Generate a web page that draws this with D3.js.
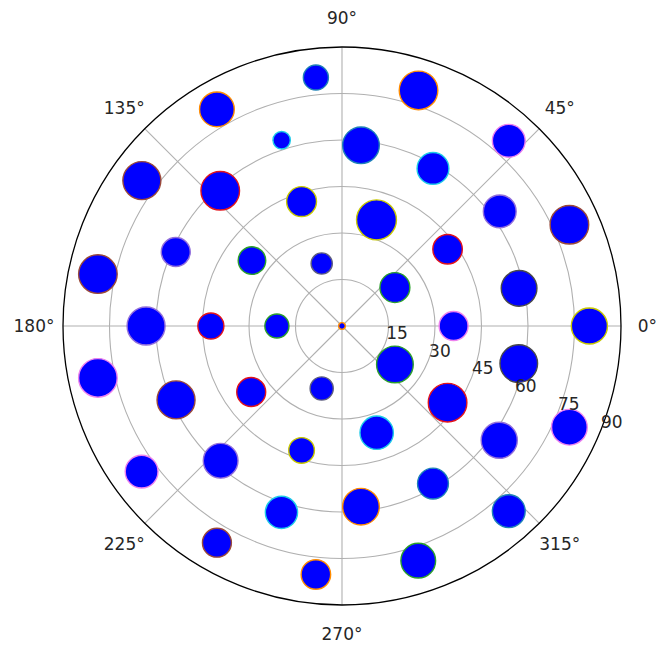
<!DOCTYPE html>
<html>
<head>
<meta charset="utf-8">
<script src="https://cdn.jsdelivr.net/npm/d3@7"></script>
<style>
  body { margin: 0; background: #fff; }
  text { font-family: "DejaVu Sans", sans-serif; fill: #262626; }
</style>
</head>
<body>
<div id="chart"></div>
<script>
// data: angle (deg), radius (axis units), marker area, edge group
var thetaDeg = [0,
  36, 108, 180, 252, 324,
  0, 72, 144, 216, 288,
  36, 108, 180, 252, 324,
  12, 60, 84, 132, 156, 204, 228, 276, 300, 348,
  36, 108, 180, 252, 324,
  0, 24, 48, 72, 96, 120, 144, 168, 192, 216, 240, 264, 288, 312, 336];

var rValue = [0,
  21.1, 21.2, 21.0, 21.2, 21.1,
  36.0, 36.0, 35.9, 36.2, 36.2,
  42.1, 42.2, 42.3, 42.2, 42.1,
  58.4, 58.7, 58.6, 58.7, 58.7, 58.6, 58.5, 58.6, 58.7, 58.3,
  62.9, 63.0, 63.2, 63.2, 62.7,
  79.8, 80.3, 80.4, 79.9, 80.6, 80.7, 79.8, 80.5, 80.5, 79.9, 80.7, 80.6, 79.6, 80.4, 80.3];

var markerArea = [12,
  240, 121, 156, 144, 361,
  225, 428, 204, 225, 299,
  234, 240, 182, 177, 400,
  342, 272, 361, 400, 225, 388, 324, 361, 256, 380,
  289, 81, 388, 279, 350,
  350, 400, 289, 400, 169, 324, 388, 400, 400, 289, 225, 234, 324, 289, 342];

var edgeGroup = [0,
  1, 9, 1, 9, 1,
  4, 5, 1, 2, 3,
  2, 5, 2, 5, 2,
  10, 3, 8, 2, 7, 6, 7, 0, 8, 10,
  7, 3, 7, 3, 7,
  5, 6, 4, 0, 8, 0, 6, 6, 4, 4, 6, 0, 1, 8, 4];

var angleTicks = [0, 45, 90, 135, 180, 225, 270, 315];
var radialTicks = [15, 30, 45, 60, 75, 90];
var edgePalette = ["#ff8c00", "#2ca02c", "#e3141b", "#1ecbe8", "#ee82ee",
                   "#c8c800", "#9b4a3a", "#9370db", "#1f83b8", "#5f5f7f", "#4a4a4a"];

var width = 658, height = 647;
var cx = 342, cy = 326, R = 279;

var svg = d3.select("#chart").append("svg")
    .attr("width", width)
    .attr("height", height);

var g = svg.append("g").attr("transform", "translate(" + cx + "," + cy + ")");

var r = d3.scaleLinear().domain([0, 90]).range([0, R]);
var ang = d3.scaleLinear().domain([0, 360]).range([0, 2 * Math.PI]);
var size = d3.scaleSqrt().domain([0, 400]).range([0, 19.3]);
var edge = d3.scaleOrdinal().domain(d3.range(edgePalette.length)).range(edgePalette);

function px(t, v) { return r(v) * Math.cos(ang(t)); }
function py(t, v) { return -r(v) * Math.sin(ang(t)); }

// grid circles
g.selectAll("circle.grid")
  .data(radialTicks.slice(0, -1))
  .enter().append("circle")
    .attr("class", "grid")
    .attr("r", function(d) { return r(d); })
    .attr("fill", "none")
    .attr("stroke", "#b0b0b0")
    .attr("stroke-width", 1.1);

// spokes
g.selectAll("line.spoke")
  .data(angleTicks)
  .enter().append("line")
    .attr("class", "spoke")
    .attr("x1", 0).attr("y1", 0)
    .attr("x2", function(d) { return px(d, 90); })
    .attr("y2", function(d) { return py(d, 90); })
    .attr("stroke", "#b0b0b0")
    .attr("stroke-width", 1.1);

// outer frame
g.append("circle")
  .attr("r", R)
  .attr("fill", "none")
  .attr("stroke", "#000")
  .attr("stroke-width", 1.3);

// points
var pts = d3.range(thetaDeg.length);
g.selectAll("circle.pt")
  .data(pts)
  .enter().append("circle")
    .attr("class", "pt")
    .attr("cx", function(i) { return px(thetaDeg[i], rValue[i]); })
    .attr("cy", function(i) { return py(thetaDeg[i], rValue[i]); })
    .attr("r", function(i) { return size(markerArea[i]); })
    .attr("fill", "#0000ff")
    .attr("stroke", function(i) { return edge(edgeGroup[i]); })
    .attr("stroke-width", 1.4);

// angle labels
var angLabels = g.selectAll("text.ang")
  .data(angleTicks)
  .enter().append("text")
    .attr("class", "ang")
    .attr("x", function(d) { return (R + 29) * Math.cos(ang(d)); })
    .attr("y", function(d) { return -(R + 29) * Math.sin(ang(d)); })
    .attr("text-anchor", "middle")
    .attr("dominant-baseline", "central")
    .style("font-size", "17px")
    .text(function(d) { return d + "°"; });

// keep the 0° label inside the page
angLabels.each(function() {
  var t = d3.select(this);
  var half = this.getComputedTextLength() / 2;
  var x = +t.attr("x");
  var maxX = width - cx - half - 1;
  if (x > maxX) t.attr("x", maxX);
});

// radial labels along -22.5 deg
g.selectAll("text.rad")
  .data(radialTicks)
  .enter().append("text")
    .attr("class", "rad")
    .attr("x", function(d) { return px(-22.5, d) + 12; })
    .attr("y", function(d) { return py(-22.5, d) - 11; })
    .attr("text-anchor", "middle")
    .attr("dominant-baseline", "central")
    .style("font-size", "17px")
    .text(function(d) { return d; });
</script>
</body>
</html>
